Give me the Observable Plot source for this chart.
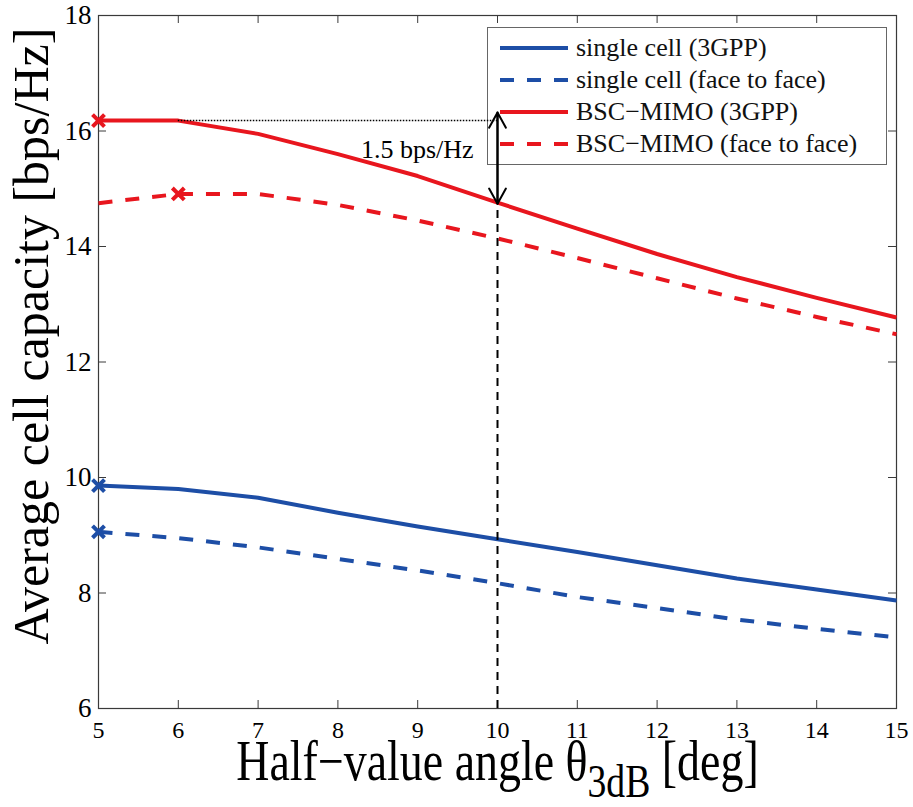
<!DOCTYPE html>
<html>
<head>
<meta charset="utf-8">
<script src="https://cdn.jsdelivr.net/npm/d3@7"></script>
<script src="https://cdn.jsdelivr.net/npm/@observablehq/plot@0.6"></script>
<style>
  html, body { margin: 0; padding: 0; background: #fff; overflow: hidden; }
  #wrap { position: relative; width: 913px; height: 807px; }
  #legend {
    position: absolute; left: 487px; top: 27px; width: 400px; height: 138px;
    box-sizing: border-box; border: 1px solid #666; background: #fff;
    padding: 4px 0 4px 0; z-index: 0;
    font-family: "Liberation Serif", "Times New Roman", serif; font-size: 26px; color: #111;
  }
  #legend .row { display: flex; align-items: center; height: 32px; }
  #legend .row svg { margin-left: 12px; flex: none; }
  #legend .row span { margin-left: 8px; line-height: 1; white-space: nowrap; font-family: "Liberation Serif", serif; }
  #chart { position: relative; z-index: 1; }
  #chart svg, #chart svg text { font-family: "Liberation Serif", "Times New Roman", serif !important; }
</style>
</head>
<body>
<div id="wrap"><div id="legend"></div><div id="chart"></div></div>
<script>
// ---- data ----
const angles = [5, 6, 7, 8, 9, 10, 11, 12, 13, 14, 15];
const singleCell3gpp  = [9.86, 9.80, 9.65, 9.39, 9.15, 8.93, 8.71, 8.48, 8.25, 8.06, 7.87];
const singleCellFace  = [9.06, 8.95, 8.79, 8.59, 8.39, 8.17, 7.93, 7.74, 7.54, 7.38, 7.23];
const bscMimo3gpp     = [16.18, 16.18, 15.95, 15.60, 15.22, 14.76, 14.31, 13.87, 13.47, 13.11, 12.77];
const bscMimoFace     = [14.75, 14.91, 14.91, 14.72, 14.45, 14.14, 13.80, 13.45, 13.10, 12.78, 12.48];

const seriesNames  = ["single cell (3GPP)", "single cell (face to face)", "BSC\u2212MIMO (3GPP)", "BSC\u2212MIMO (face to face)"];
const seriesValues = [singleCell3gpp, singleCellFace, bscMimo3gpp, bscMimoFace];
const seriesColors = ["#1d4ea6", "#1d4ea6", "#e8161e", "#e8161e"];
const seriesDashed = [false, true, false, true];
const markerAngles = [5, 5, 5, 6];   // "x" marker (maximum) on each curve

const xTicks = [5, 6, 7, 8, 9, 10, 11, 12, 13, 14, 15];
const yTicks = [6, 8, 10, 12, 14, 16, 18];

// annotation
const refAngle = 6;           // dotted line starts here
const gapAngle = 10;          // arrow / vertical dashed line position
const gapTop = 16.32;
const gapLevel = 16.18;
const gapBottom = 14.74;
const gapText = "1.5 bps/Hz";
const gapTextPos = {x: 9.7, y: 15.54};

const yLabel = "Average cell capacity [bps/Hz]";
const xLabelParts = ["Half\u2212value angle \u03b8", "3dB", " [deg]"];

// ---- build ----
const font = "Liberation Serif";
const W = 913, H = 807, mL = 98, mR = 17, mT = 15, mB = 99;
const plotW = W - mL - mR, plotH = H - mT - mB;
const axisColor = "#3a3a3a";

const rows = seriesNames.map((name, s) => angles.map((a, i) => ({series: name, angle: a, value: seriesValues[s][i]})));

const marks = [
  Plot.frame({stroke: axisColor, strokeWidth: 1.2}),
  Plot.tickX(xTicks, {x: d => d, insetTop: plotH - 8, stroke: axisColor}),
  Plot.tickX(xTicks, {x: d => d, insetBottom: plotH - 8, stroke: axisColor}),
  Plot.tickY(yTicks, {y: d => d, insetRight: plotW - 8, stroke: axisColor}),
  Plot.tickY(yTicks, {y: d => d, insetLeft: plotW - 8, stroke: axisColor}),
  Plot.axisX({ticks: xTicks, tickSize: 0, tickPadding: 12, fontSize: 24, fontFamily: font, label: null}),
  Plot.axisY({ticks: yTicks, tickSize: 0, tickPadding: 7, fontSize: 27, fontFamily: font, label: null})
];

rows.forEach((r, s) => {
  marks.push(Plot.line(r, {
    x: "angle", y: "value", stroke: seriesColors[s], strokeWidth: 4,
    strokeDasharray: seriesDashed[s] ? "14,13" : null, strokeLinecap: "butt", strokeLinejoin: "round"
  }));
});
rows.forEach((r, s) => {
  marks.push(Plot.dot(r.filter(d => d.angle === markerAngles[s]), {
    x: "angle", y: "value", symbol: "times", r: 5.5, stroke: seriesColors[s], strokeWidth: 4
  }));
});

// annotations
marks.push(
  Plot.ruleY([{a1: refAngle, a2: gapAngle, y: gapLevel}], {x1: "a1", x2: "a2", y: "y", stroke: "#000", strokeWidth: 1.5, strokeDasharray: "1.5,1.5"}),
  Plot.ruleX([{x: gapAngle, y1: 6, y2: gapBottom}], {x: "x", y1: "y1", y2: "y2", stroke: "#000", strokeWidth: 2, strokeDasharray: "8,6"}),
  Plot.arrow([{x: gapAngle, from: gapBottom, to: gapTop}, {x: gapAngle, from: gapTop, to: gapBottom}], {
    x1: "x", x2: "x", y1: "from", y2: "to", stroke: "#000", strokeWidth: 2, headLength: 13, headAngle: 58
  }),
  Plot.text([gapTextPos], {x: "x", y: "y", text: () => gapText, textAnchor: "end", lineAnchor: "bottom", fontSize: 26, fontFamily: font, fill: "#000"}),
  Plot.text([yLabel], {text: d => d, frameAnchor: "left", textAnchor: "middle", rotate: -90, lineAnchor: "bottom", dx: -51, dy: -26, fontSize: 50, fontFamily: font, fill: "#000"}),
  Plot.text([xLabelParts[0]], {text: d => d, frameAnchor: "bottom", textAnchor: "middle", lineAnchor: "bottom", dy: 71, fontSize: 56, fontFamily: font, fill: "#000"})
);

const chart = Plot.plot({
  width: W, height: H,
  marginLeft: mL, marginRight: mR, marginTop: mT, marginBottom: mB,
  style: {fontFamily: font, background: "transparent", color: "#000", overflow: "visible"},
  x: {domain: [5, 15]},
  y: {domain: [6, 18]},
  marks
});

// x label: subscript and condensed look
const SVGNS = "http://www.w3.org/2000/svg";
chart.querySelectorAll("text").forEach(t => {
  if (t.textContent === xLabelParts[0]) {
    t.textContent = "";
    const a = document.createElementNS(SVGNS, "tspan"); a.textContent = xLabelParts[0];
    const b = document.createElementNS(SVGNS, "tspan"); b.textContent = xLabelParts[1];
    b.setAttribute("dy", "17"); b.setAttribute("font-size", "46");
    const c = document.createElementNS(SVGNS, "tspan"); c.textContent = xLabelParts[2];
    c.setAttribute("dy", "-17"); c.setAttribute("font-size", "56");
    t.append(a, b, c);
    const tr = t.getAttribute("transform") || "";
    t.setAttribute("transform", tr + " scale(0.82,1)");
  }
});

document.getElementById("chart").append(chart);

// legend (inside the plot, top right)
const legend = document.getElementById("legend");
seriesNames.forEach((name, i) => {
  const row = document.createElement("div");
  row.className = "row";
  row.innerHTML = `<svg width="68" height="10"><line x1="0" y1="5" x2="68" y2="5" stroke="${seriesColors[i]}" stroke-width="4"${seriesDashed[i] ? ' stroke-dasharray="14,13"' : ''}/></svg><span>${name}</span>`;
  legend.append(row);
});
</script>
</body>
</html>
